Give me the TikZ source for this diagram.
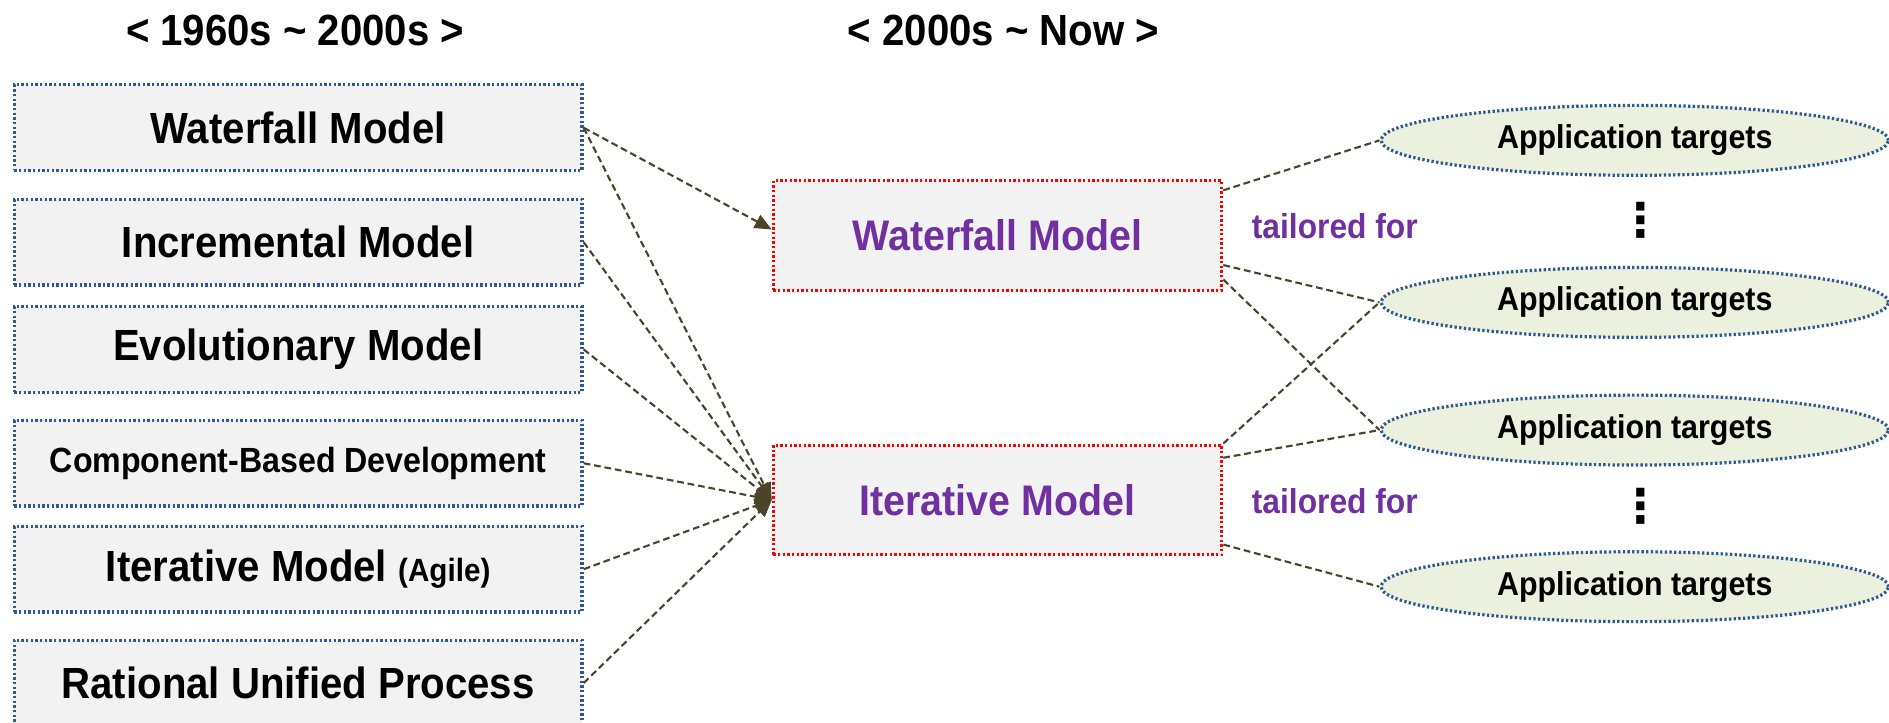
\documentclass[tikz,border=0pt]{standalone}
\usepackage{fontspec}
\setmainfont{Liberation Sans}[FakeStretch=0.92]
\newfontfamily\dotsfont{DejaVu Sans}
\usetikzlibrary{arrows.meta}
\usetikzlibrary{shapes.geometric}
\definecolor{boxgray}{HTML}{F2F2F2}
\definecolor{dotblue}{HTML}{2F5A8E}
\definecolor{dotred}{HTML}{FF0000}
\definecolor{targetgreen}{HTML}{EBF1DE}
\definecolor{linkolive}{HTML}{4A452A}
\definecolor{tailpurple}{HTML}{7030A0}
\tikzset{
  oldmodel/.style={draw=dotblue, fill=boxgray, line width=0.75pt, dash pattern=on 0.55pt off 0.55pt,
    minimum width=4.71cm, minimum height=0.71cm, inner sep=0pt, font=\bfseries\fontsize{10.3}{12}\selectfont},
  newmodel/.style={draw=dotred, fill=boxgray, line width=0.75pt, dash pattern=on 0.55pt off 0.55pt,
    minimum width=3.72cm, minimum height=0.91cm, inner sep=0pt, text=tailpurple, font=\bfseries\fontsize{10.1}{12}\selectfont},
  target/.style={ellipse, draw=dotblue, fill=targetgreen, line width=0.75pt, dash pattern=on 0.55pt off 0.55pt,
    minimum width=4.21cm, minimum height=0.58cm, inner sep=0pt, font=\bfseries\fontsize{7.8}{9}\selectfont},
  link/.style={draw=linkolive, line width=0.5pt, dash pattern=on 1.6pt off 0.9pt},
  tailtext/.style={text=tailpurple, font=\bfseries\fontsize{8.15}{10}\selectfont},
  era/.style={font=\bfseries\fontsize{10.3}{12}\selectfont},
  moredots/.style={font=\dotsfont\bfseries\fontsize{11}{13}\selectfont, inner sep=0pt}
}
\begin{document}
\begin{tikzpicture}[x=0.01cm, y=-0.01cm]
\def\tiplen{4pt}
\def\tipwid{3.4pt}
\useasboundingbox (0,0) rectangle (1568,600);
% era titles
\node [era, name=e1] at (245,25) {< 1960s \textasciitilde{} 2000s >};
\node [era, name=e2] at (833,25) {< 2000s \textasciitilde{} Now >};
% 1960s ~ 2000s
\node [oldmodel, name=a1] at (247.5,106) {Waterfall Model};
\node [oldmodel, name=a2] at (247.5,201) {Incremental Model};
\node [oldmodel, name=a3] at (247.5,290) {Evolutionary Model};
\node [oldmodel, name=a4, font=\bfseries\fontsize{8.25}{10}\selectfont] at (247.5,384.5) {Component-Based Development};
\node [oldmodel, name=a5] at (247.5,472.5) {Iterative Model {\fontsize{7.6}{9}\selectfont(Agile)}};
\node [oldmodel, name=a6] at (247.5,567) {Rational Unified Process};
% 2000s ~ Now
\node [newmodel, name=m1] at (828,195.5) {Waterfall Model};
\node [newmodel, name=m2] at (828,415) {Iterative Model};
\node [tailtext, name=f1] at (1108,188) {tailored for};
\node [tailtext, name=f2] at (1108,416) {tailored for};
% application targets
\node [target, name=t1] at (1357,116.5) {Application targets};
\node [target, name=t2] at (1357,251) {Application targets};
\node [target, name=t3] at (1357,357) {Application targets};
\node [target, name=t4] at (1357,487) {Application targets};
\node [moredots, name=d1] at (1362,183) {⋮};
\node [moredots, name=d2] at (1362,420) {⋮};
% links
\draw [link, -{Triangle[length=\tiplen, width=\tipwid]}, linkolive] (a1.east) -- ([yshift=0.05cm]m1.west);
\draw [link, -{Triangle[length=\tiplen, width=\tipwid]}, linkolive] (a1.east) -- (m2.west);
\draw [link, -{Triangle[length=\tiplen, width=\tipwid]}, linkolive] (a2.east) -- (m2.west);
\draw [link, -{Triangle[length=\tiplen, width=\tipwid]}, linkolive] (a3.east) -- (m2.west);
\draw [link, -{Triangle[length=\tiplen, width=\tipwid]}, linkolive] (a4.east) -- (m2.west);
\draw [link, -{Triangle[length=\tiplen, width=\tipwid]}, linkolive] (a5.east) -- (m2.west);
\draw [link, -{Triangle[length=\tiplen, width=\tipwid]}, linkolive] (a6.east) -- (m2.west);
\draw [link] ([yshift=0.375cm]m1.east) -- (t1.west);
\draw [link] ([yshift=-0.245cm]m1.east) -- (t2.west);
\draw [link] ([yshift=-0.365cm]m1.east) -- (t3.west);
\draw [link] (m2.north east) -- (t2.west);
\draw [link] ([yshift=0.35cm]m2.east) -- (t3.west);
\draw [link] ([yshift=-0.37cm]m2.east) -- (t4.west);
\end{tikzpicture}
\end{document}
